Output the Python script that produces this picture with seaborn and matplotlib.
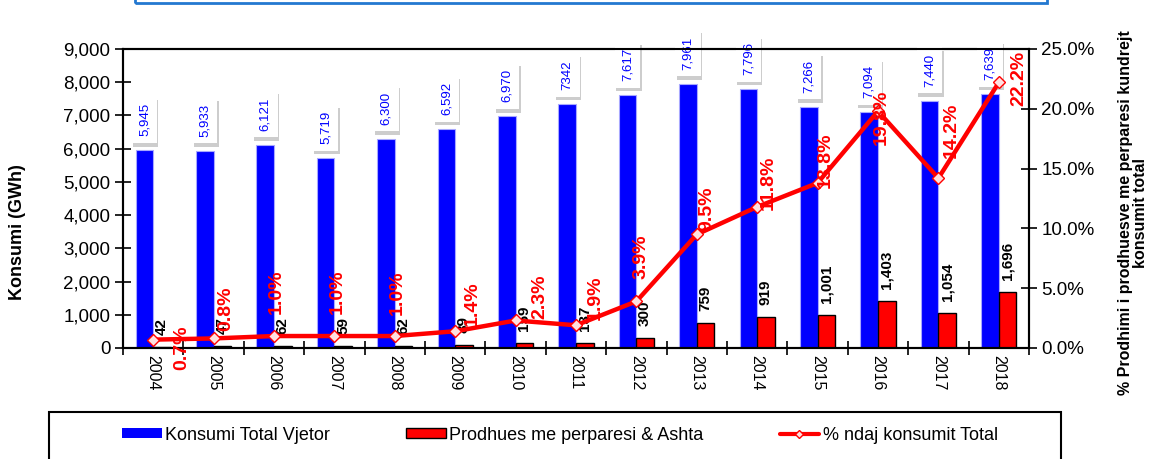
import numpy as np
import pandas as pd
import seaborn as sns
import matplotlib.pyplot as plt
from matplotlib import patheffects as pe
from matplotlib.patches import Rectangle, Patch
from matplotlib.lines import Line2D
from matplotlib.ticker import FuncFormatter

# te dhenat
vitet = ['2004', '2005', '2006', '2007', '2008', '2009', '2010', '2011',
         '2012', '2013', '2014', '2015', '2016', '2017', '2018']
konsumi = [5945, 5933, 6121, 5719, 6300, 6592, 6970, 7342,
           7617, 7961, 7796, 7266, 7094, 7440, 7639]
konsumi_lbl = ['5,945', '5,933', '6,121', '5,719', '6,300', '6,592', '6,970', '7342',
               '7,617', '7,961', '7,796', '7,266', '7,094', '7,440', '7,639']
prodhues = [42, 47, 62, 59, 62, 89, 159, 137, 300, 759, 919, 1001, 1403, 1054, 1696]
perqindja = [0.7, 0.8, 1.0, 1.0, 1.0, 1.4, 2.3, 1.9, 3.9, 9.5, 11.8, 13.8, 19.8, 14.2, 22.2]

# zhvendosja e etiketave % (piksel)
lbl_dx = [29, 12, 2, 3, 2, 17, 24, 19, 5, 10, 11, 8, 3, 13, 20]
lbl_dy = [-8, 30, 44, 44, 43, 28, 24, 28, 45, 26, 24, 23, -6, 48, 4]

sns.set_theme(style='white', rc={'text.color': 'black', 'axes.labelcolor': 'black',
                                 'xtick.color': 'black', 'ytick.color': 'black',
                                 'axes.edgecolor': 'black'})
plt.rcParams['font.family'] = ['Liberation Sans', 'DejaVu Sans']

fig = plt.figure(figsize=(11.51, 4.59), dpi=100)
ax = fig.add_axes([123/1151, 1-348/459, (1029-123)/1151, (348-49)/459])

df = pd.DataFrame({
    'Viti': vitet * 2,
    'Vlera': konsumi + prodhues,
    'Seria': ['Konsumi Total Vjetor'] * len(vitet) + ['Prodhues me perparesi & Ashta'] * len(vitet),
})
sns.barplot(data=df, x='Viti', y='Vlera', hue='Seria', palette=['#0000ff', '#ff0000'],
            width=0.58, saturation=1, legend=False, ax=ax)

for bar in ax.containers[0]:
    bar.set_edgecolor('#a8a8ff')
    bar.set_linewidth(0.8)
for bar in ax.containers[1]:
    bar.set_edgecolor('black')
    bar.set_linewidth(1.0)

# etiketat e konsumit
for bar, lbl in zip(ax.containers[0], konsumi_lbl):
    x = bar.get_x() + bar.get_width() / 2
    t = ax.annotate(lbl, (x, bar.get_height()), xytext=(0, 14), textcoords='offset pixels',
                    rotation=90, ha='center', va='bottom', color='#0000ff', fontsize=9.5,
                    bbox=dict(boxstyle='square,pad=0.5', fc='white', ec='none'))
    t.get_bbox_patch().set_path_effects([
        pe.withSimplePatchShadow(offset=(1, -2.5), shadow_rgbFace='#909090', alpha=0.45),
        pe.Normal()])

# etiketat e prodhuesve
for bar, v in zip(ax.containers[1], prodhues):
    x = bar.get_x() + bar.get_width() / 2
    ax.annotate(f'{v:,}', (x, bar.get_height()), xytext=(0, 12), textcoords='offset pixels',
                rotation=90, ha='center', va='bottom', color='black', fontsize=11,
                fontweight='bold')

ax.set_ylim(0, 9000)
ax.set_yticks(range(0, 9001, 1000))
ax.yaxis.set_major_formatter(FuncFormatter(lambda v, p: f'{v:,.0f}'))
ax.set_xlabel('')
ax.set_ylabel('')

ax2 = ax.twinx()
sns.lineplot(x=np.arange(len(vitet)), y=perqindja, ax=ax2, color='#ff0000', lw=3.2,
             marker='D', markersize=6, markerfacecolor='#ffe0e0',
             markeredgecolor='#ff0000', markeredgewidth=1)
for i, p in enumerate(perqindja):
    ax2.annotate(f'{p:.1f}%', (i, p), xytext=(lbl_dx[i], lbl_dy[i]), textcoords='offset pixels',
                 rotation=90, ha='center', va='center', color='#ff0000', fontsize=14,
                 fontweight='bold')
ax2.set_ylim(0, 25)
ax2.set_yticks(range(0, 26, 5))
ax2.yaxis.set_major_formatter(FuncFormatter(lambda v, p: f'{v:.1f}%'))
ax2.set_ylabel('')

ax.set_xlim(-0.5, len(vitet) - 0.5)
ax.set_xticks(range(len(vitet)))
ax.set_xticklabels(vitet, rotation=-90)
ax.set_xticks(np.arange(-0.5, len(vitet), 1), minor=True)
ax.tick_params(axis='x', which='major', length=0, pad=5, labelsize=11.5)
ax.tick_params(axis='x', which='minor', bottom=True, direction='inout', length=10, width=1.2)
ax.tick_params(axis='y', left=True, direction='inout', length=12, width=1.2, labelsize=13.5, pad=3)
ax2.tick_params(axis='y', right=True, direction='inout', length=12, width=1.2, labelsize=13.5, pad=3)

for a in (ax, ax2):
    for s in a.spines.values():
        s.set_color('black')
        s.set_linewidth(1.5)

fig.text(18/1151, 1-232/459, 'Konsumi (GWh)', rotation=90, ha='center', va='center',
         fontsize=13, fontweight='bold')
fig.text(1133/1151, 1-213/459, '% Prodhimi i prodhuesve me perparesi kundrejt\nkonsumit total',
         rotation=90, ha='center', va='center', fontsize=11.5, fontweight='bold',
         linespacing=1.0, multialignment='center')

# kutia e titullit lart
fig.add_artist(Rectangle((135/1151, 1-3/459), (1047-135)/1151, 0.1, transform=fig.transFigure,
                         fill=False, ec='#2378d0', lw=2, clip_on=False))

# legjenda
fig.add_artist(Rectangle((49/1151, -0.05), (1061-49)/1151, 0.05 + 1 - 412/459,
                         transform=fig.transFigure, fill=False, ec='black', lw=1.5, clip_on=False))
handles = [Patch(fc='#0000ff', ec='none'),
           Patch(fc='#ff0000', ec='black'),
           Line2D([], [], color='#ff0000', lw=3, marker='D', ms=4, mfc='#ffe0e0')]
labels = ['Konsumi Total Vjetor', 'Prodhues me perparesi & Ashta', '% ndaj konsumit Total']
fig.legend(handles, labels, loc='center', bbox_to_anchor=(560/1151, 1-435/459), ncol=3,
           frameon=False, prop={'size': 13},
           handlelength=2.2, handleheight=0.5, handletextpad=0.2, columnspacing=4.2)

fig.savefig('out.png', dpi=100)
